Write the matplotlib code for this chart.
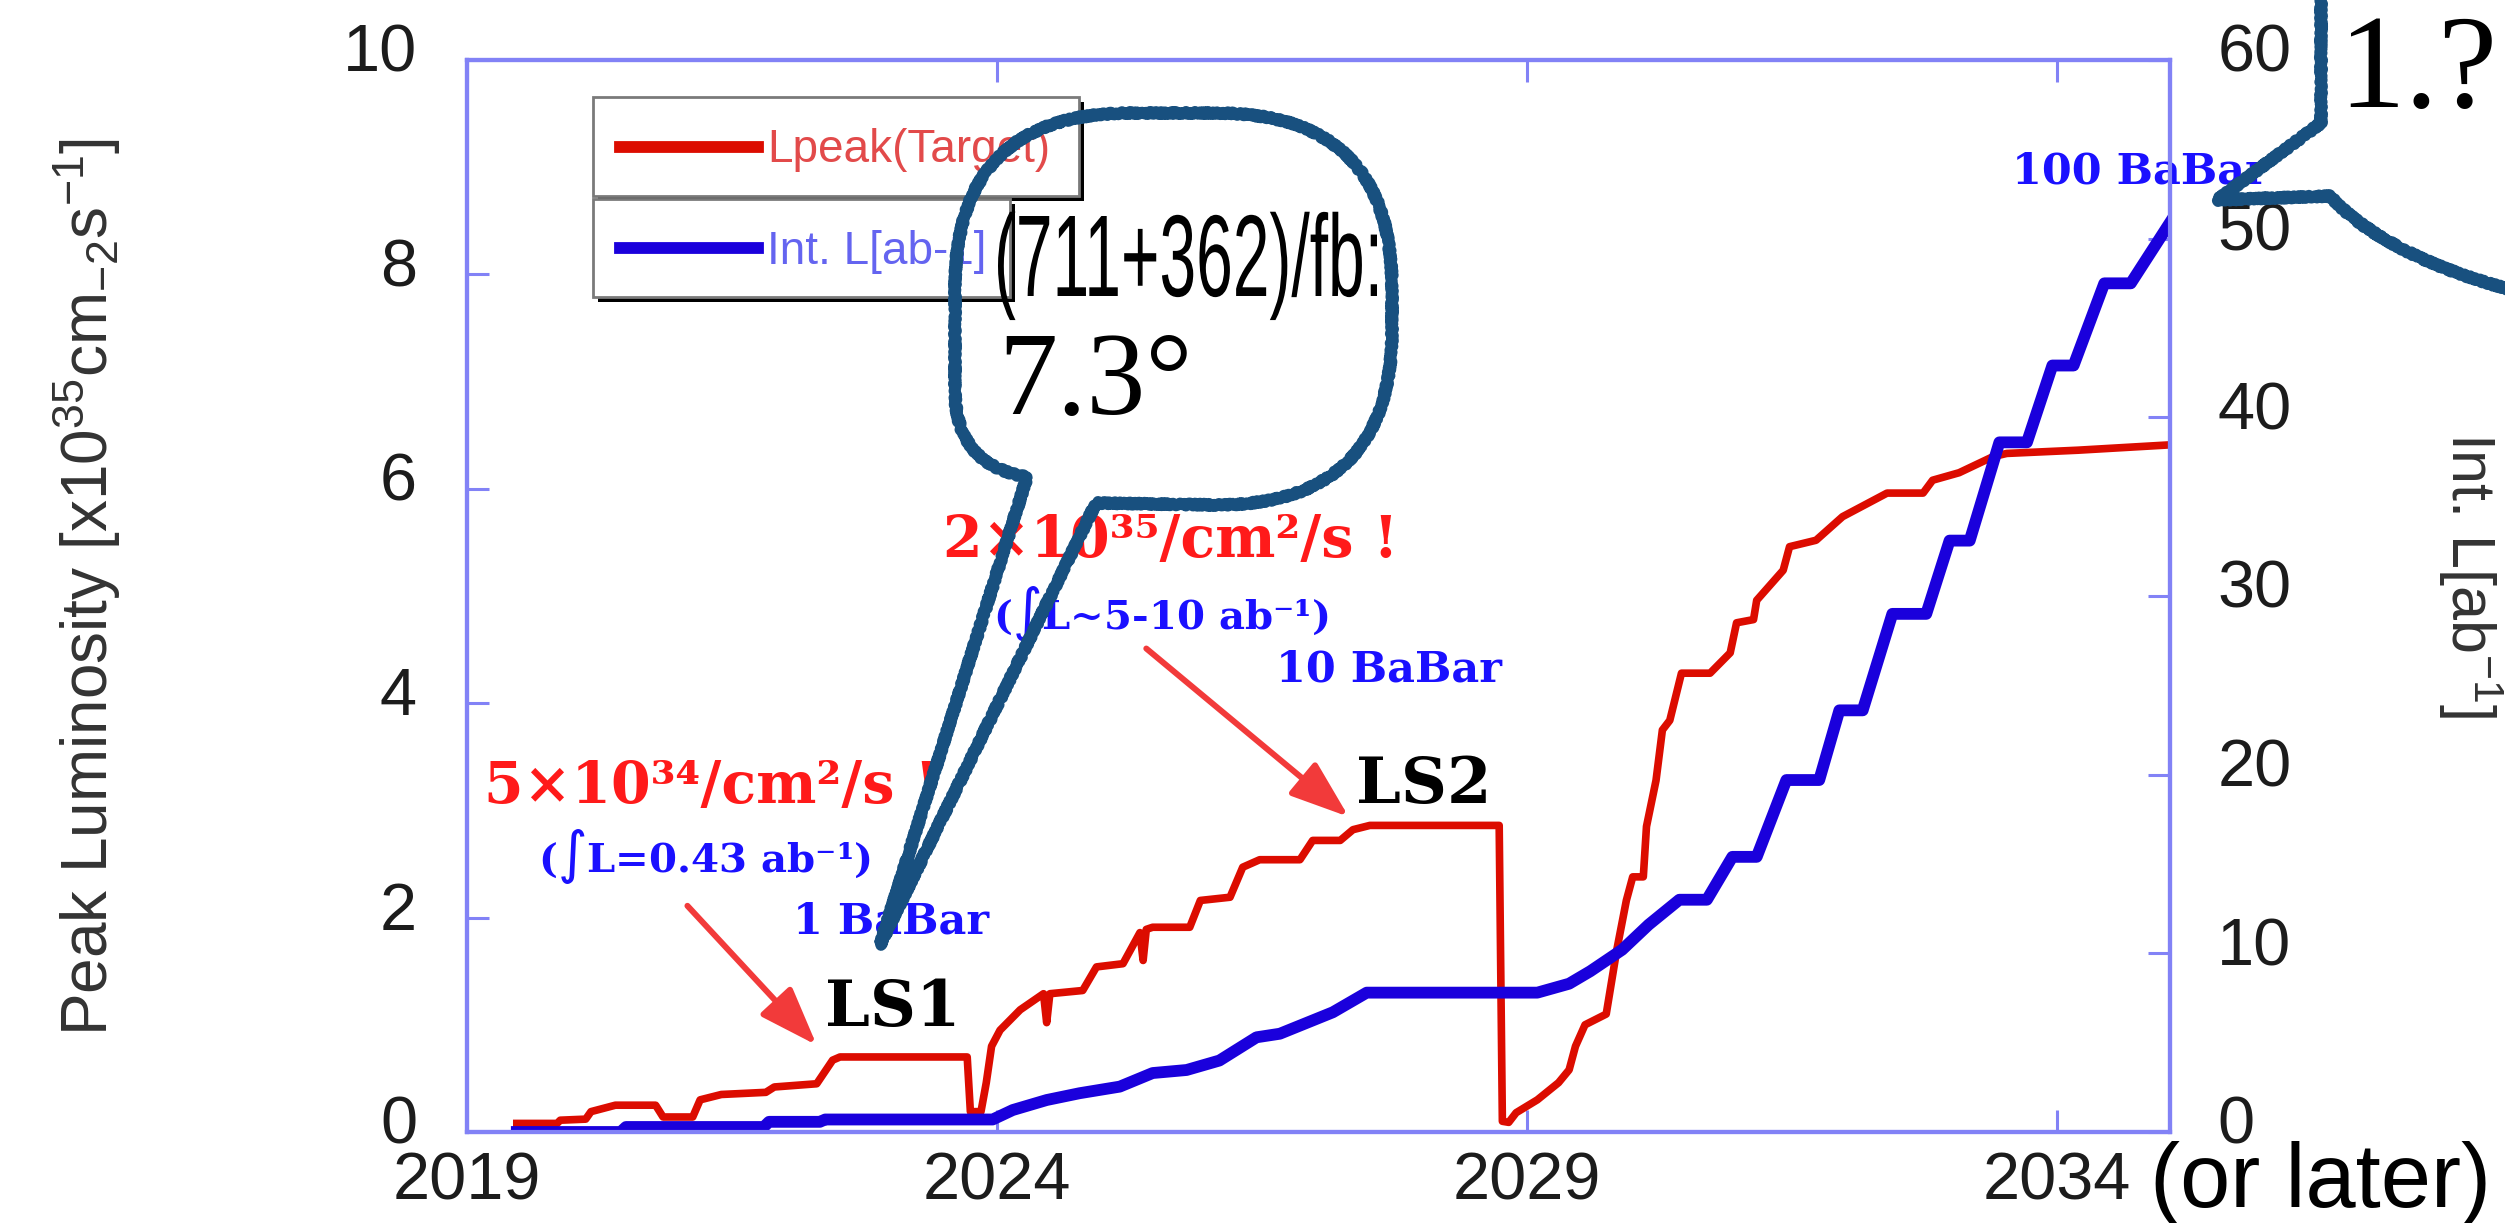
import matplotlib.pyplot as plt
from matplotlib.patches import Rectangle, PathPatch
from matplotlib.path import Path
from matplotlib.textpath import TextPath
from matplotlib.font_manager import FontProperties
from matplotlib.transforms import Affine2D, ScaledTranslation
from matplotlib.lines import Line2D

plt.rcParams['font.family'] = ['Liberation Sans', 'DejaVu Sans']
plt.rcParams['mathtext.default'] = 'regular'

# Target peak luminosity [x10^35 cm^-2 s^-1] vs. year
lpeak_year = [2019.47, 2019.85, 2019.88, 2020.12, 2020.17, 2020.40, 2020.78, 2020.85,
              2021.13, 2021.20, 2021.40, 2021.82, 2021.90, 2022.30, 2022.45, 2022.52,
              2023.72, 2023.75, 2023.85, 2023.90, 2023.95, 2024.03, 2024.22, 2024.44,
              2024.47, 2024.50, 2024.81, 2024.94, 2025.19, 2025.35, 2025.38, 2025.41,
              2025.47, 2025.82, 2025.92, 2026.20, 2026.32, 2026.48, 2026.86, 2026.98,
              2027.24, 2027.36, 2027.52, 2028.74, 2028.77, 2028.83, 2028.90, 2029.10,
              2029.30, 2029.40, 2029.46, 2029.55, 2029.75, 2029.85, 2029.94, 2030.00,
              2030.10, 2030.13, 2030.22, 2030.28, 2030.35, 2030.46, 2030.73, 2030.92,
              2030.98, 2031.14, 2031.17, 2031.42, 2031.48, 2031.73, 2031.98, 2032.40,
              2032.74, 2032.83, 2033.08, 2033.40, 2033.53, 2034.20, 2035.07]
lpeak = [0.08, 0.08, 0.11, 0.12, 0.19, 0.25, 0.25, 0.14,
         0.14, 0.30, 0.35, 0.37, 0.42, 0.45, 0.67, 0.70,
         0.70, 0.19, 0.19, 0.46, 0.80, 0.95, 1.14, 1.29,
         1.02, 1.29, 1.32, 1.54, 1.57, 1.86, 1.60, 1.89,
         1.91, 1.91, 2.16, 2.19, 2.47, 2.54, 2.54, 2.72,
         2.72, 2.82, 2.86, 2.86, 0.10, 0.09, 0.18, 0.30,
         0.46, 0.58, 0.80, 1.00, 1.10, 1.70, 2.16, 2.38,
         2.38, 2.85, 3.28, 3.75, 3.84, 4.28, 4.28, 4.47,
         4.75, 4.78, 4.96, 5.24, 5.46, 5.52, 5.74, 5.96,
         5.96, 6.08, 6.15, 6.30, 6.33, 6.36, 6.41]

# Integrated luminosity [ab^-1] vs. year
intl_year = [2019.47, 2020.45, 2020.50, 2021.80, 2021.85, 2022.33, 2022.38, 2023.96,
             2024.15, 2024.47, 2024.78, 2025.16, 2025.47, 2025.79, 2026.10, 2026.45,
             2026.67, 2026.92, 2027.17, 2027.49, 2029.10, 2029.40, 2029.60, 2029.90,
             2030.15, 2030.44, 2030.70, 2030.94, 2031.17, 2031.45, 2031.76, 2031.95,
             2032.17, 2032.45, 2032.77, 2032.99, 2033.18, 2033.46, 2033.72, 2033.96,
             2034.16, 2034.45, 2034.70, 2035.07]
intl = [0.0, 0.0, 0.28, 0.28, 0.57, 0.57, 0.70, 0.70,
        1.23, 1.79, 2.17, 2.54, 3.30, 3.47, 4.00, 5.30,
        5.50, 6.10, 6.70, 7.80, 7.80, 8.30, 9.00, 10.2,
        11.6, 13.0, 13.0, 15.4, 15.4, 19.7, 19.7, 23.6,
        23.6, 29.0, 29.0, 33.1, 33.1, 38.6, 38.6, 42.9,
        42.9, 47.5, 47.5, 50.9]

year_ticks = [2019, 2024, 2029, 2034]
lpeak_ticks = [0, 2, 4, 6, 8, 10]
intl_ticks = [0, 10, 20, 30, 40, 50, 60]

W, H = 2505, 1223
fig = plt.figure(figsize=(W / 100, H / 100), dpi=100)
ax = fig.add_axes([467 / W, 91 / H, 1703 / W, 1072 / H])
ax2 = ax.twinx()

frame = '#8282f6'
ink = '#1c1c1c'

ax.plot(lpeak_year, lpeak, color='#dc0c00', lw=5.5)
ax2.plot(intl_year, intl, color='#1a00dc', lw=8.5)

ax.set_xlim(2019, 2035.07)
ax.set_ylim(0, 10)
ax2.set_ylim(0, 60)
ax.set_xticks(year_ticks)
ax.set_yticks(lpeak_ticks)
ax2.set_yticks(intl_ticks)

for a in (ax, ax2):
    for s in a.spines.values():
        s.set_color(frame)
        s.set_linewidth(3)
ax.tick_params(axis='x', direction='in', length=16, width=2.2, color=frame, top=True,
               labelsize=48, pad=14, labelcolor=ink)
ax.tick_params(axis='y', direction='in', length=16, width=2.2, color=frame,
               labelsize=48, pad=36, labelcolor=ink)
ax2.tick_params(axis='y', direction='in', length=16, width=2.2, color=frame,
                labelsize=48, pad=34, labelcolor=ink)

# value labels sit a little above their ticks
lift = ScaledTranslation(0, 0.12, fig.dpi_scale_trans)
for lab in ax.get_yticklabels() + ax2.get_yticklabels():
    lab.set_transform(lab.get_transform() + lift)


def fx(x):
    return x / W


def fy(y):
    return 1 - y / H


fig.text(fx(87), fy(587), 'Peak Luminosity [x10$^{35}$cm$_{-2}$s$^{-1}$]', rotation=90,
         ha='center', va='center', fontsize=46, color='#333333')
fig.text(fx(2470), fy(575), 'Int. L[ab$^{-1}$]', rotation=270,
         ha='center', va='center', fontsize=44, color='#333333')

# legend boxes (two stacked frames with a drop shadow)
legend_rows = [('Lpeak(Target)', '#dc0c00', '#e24a4a', 97, 196, 1079),
               ('Int. L[ab-1]', '#1a00dc', '#6464f0', 199, 297, 1010)]
for label, lc, tc, y0, y1, x1 in legend_rows:
    x0 = 593
    fig.add_artist(Rectangle((fx(x0 + 5), fy(y1 + 5)), (x1 - x0) / W, (y1 - y0) / H,
                             transform=fig.transFigure, fc='black', ec='none'))
    fig.add_artist(Rectangle((fx(x0), fy(y1)), (x1 - x0) / W, (y1 - y0) / H,
                             transform=fig.transFigure, fc='white', ec='#7a7a7a', lw=2))
    yc = (y0 + y1) / 2
    fig.add_artist(Line2D([fx(620), fx(758)], [fy(yc), fy(yc)], color=lc, lw=8.5,
                          transform=fig.transFigure))
    fig.text(fx(767), fy(yc + 4), label, ha='left', va='center', fontsize=33, color=tc)

# annotations
serif = ['DejaVu Serif', 'DejaVu Sans']
red_txt = '#ff1a1a'
blue_txt = '#1a10ff'
notes = [
    (2019.16, 3.07, '5×10³⁴/cm²/s !', red_txt, 41),
    (2019.67, 2.43, '($\\int$L=0.43 ab⁻¹)', blue_txt, 29),
    (2022.08, 1.85, '1 BaBar', blue_txt, 31),
    (2022.38, 0.99, 'LS1', 'black', 46),
    (2023.49, 5.36, '2×10³⁵/cm²/s !', red_txt, 41),
    (2023.96, 4.69, '($\\int$L~5-10 ab⁻¹)', blue_txt, 29),
    (2026.63, 4.20, '10 BaBar', blue_txt, 31),
    (2027.39, 3.07, 'LS2', 'black', 46),
    (2033.58, 8.85, '100 BaBar', blue_txt, 31),
]
for x, y, s, c, size in notes:
    ax.text(x, y, s, color=c, fontsize=size, family=serif, weight='bold',
            ha='left', va='baseline', clip_on=False, zorder=5)

arrow_color = '#f23a3a'
for tail, tip in [((2021.08, 2.11), (2022.30, 0.81)), ((2025.41, 4.51), (2027.32, 2.94))]:
    ax.annotate('', xy=tip, xytext=tail,
                arrowprops=dict(arrowstyle='-|>,head_length=3.6,head_width=1.3',
                                color=arrow_color, lw=4.3, shrinkA=0, shrinkB=0))

# hand-drawn speech bubbles laid over the plot
px = Affine2D().scale(1, -1).translate(0, H)
bubble_color = '#18507f'

L, R, T, B, r = 955, 1392, 113, 505, 175
verts = [(1027, 477), (880, 945), (1096, 503), (R - r, B),
         (R, B), (R, B - r), (R, T + r),
         (R, T), (R - r, T), (L + r, T),
         (L, T), (L, T + r), (L, 390),
         (L, 465), (1027, 477)]
codes = [Path.MOVETO, Path.LINETO, Path.LINETO, Path.LINETO,
         Path.CURVE3, Path.CURVE3, Path.LINETO,
         Path.CURVE3, Path.CURVE3, Path.LINETO,
         Path.CURVE3, Path.CURVE3, Path.LINETO,
         Path.CURVE3, Path.CURVE3]
verts2 = [(2321, -20), (2321, 123), (2217, 200), (2330, 196),
          (2362, 232), (2425, 268), (2520, 292)]
codes2 = [Path.MOVETO, Path.LINETO, Path.LINETO, Path.LINETO,
          Path.CURVE4, Path.CURVE4, Path.CURVE4]
for v, c in [(verts, codes), (verts2, codes2)]:
    patch = PathPatch(Path(v, c), transform=px, fill=False, ec=bubble_color, lw=8,
                      capstyle='round', joinstyle='round', zorder=10)
    patch.set_sketch_params(scale=1.5, length=6, randomness=3)
    fig.add_artist(patch)

# bubble text: condensed sans line fitted into its box
def squeezed(s, x0, x1, base, cap, prop, color):
    tp = TextPath((0, 0), s, size=100, prop=prop)
    ext = tp.get_extents()
    digit_h = TextPath((0, 0), '7', size=100, prop=prop).get_extents().height
    sx = (x1 - x0) / ext.width
    sy = cap / digit_h
    tr = Affine2D().translate(-ext.x0, 0).scale(sx, sy).translate(x0, H - base)
    fig.add_artist(PathPatch(tp, transform=tr, fc=color, lw=0, zorder=11))


squeezed('(711+362)/fb:', 998, 1377, 296, 80,
         FontProperties(family='Liberation Sans'), 'black')
fig.text(fx(998), fy(414), '7.3°', fontsize=85, family='Liberation Serif',
         ha='left', va='baseline', color='black', zorder=11)
fig.text(fx(2338), fy(107), '1.?', fontsize=96, family='Liberation Serif',
         ha='left', va='baseline', color='black', zorder=11)
fig.text(fx(2150), fy(1207), '(or later)', fontsize=65, family='Liberation Sans',
         ha='left', va='baseline', color='black', zorder=11)

fig.savefig('out.png', dpi=100)
